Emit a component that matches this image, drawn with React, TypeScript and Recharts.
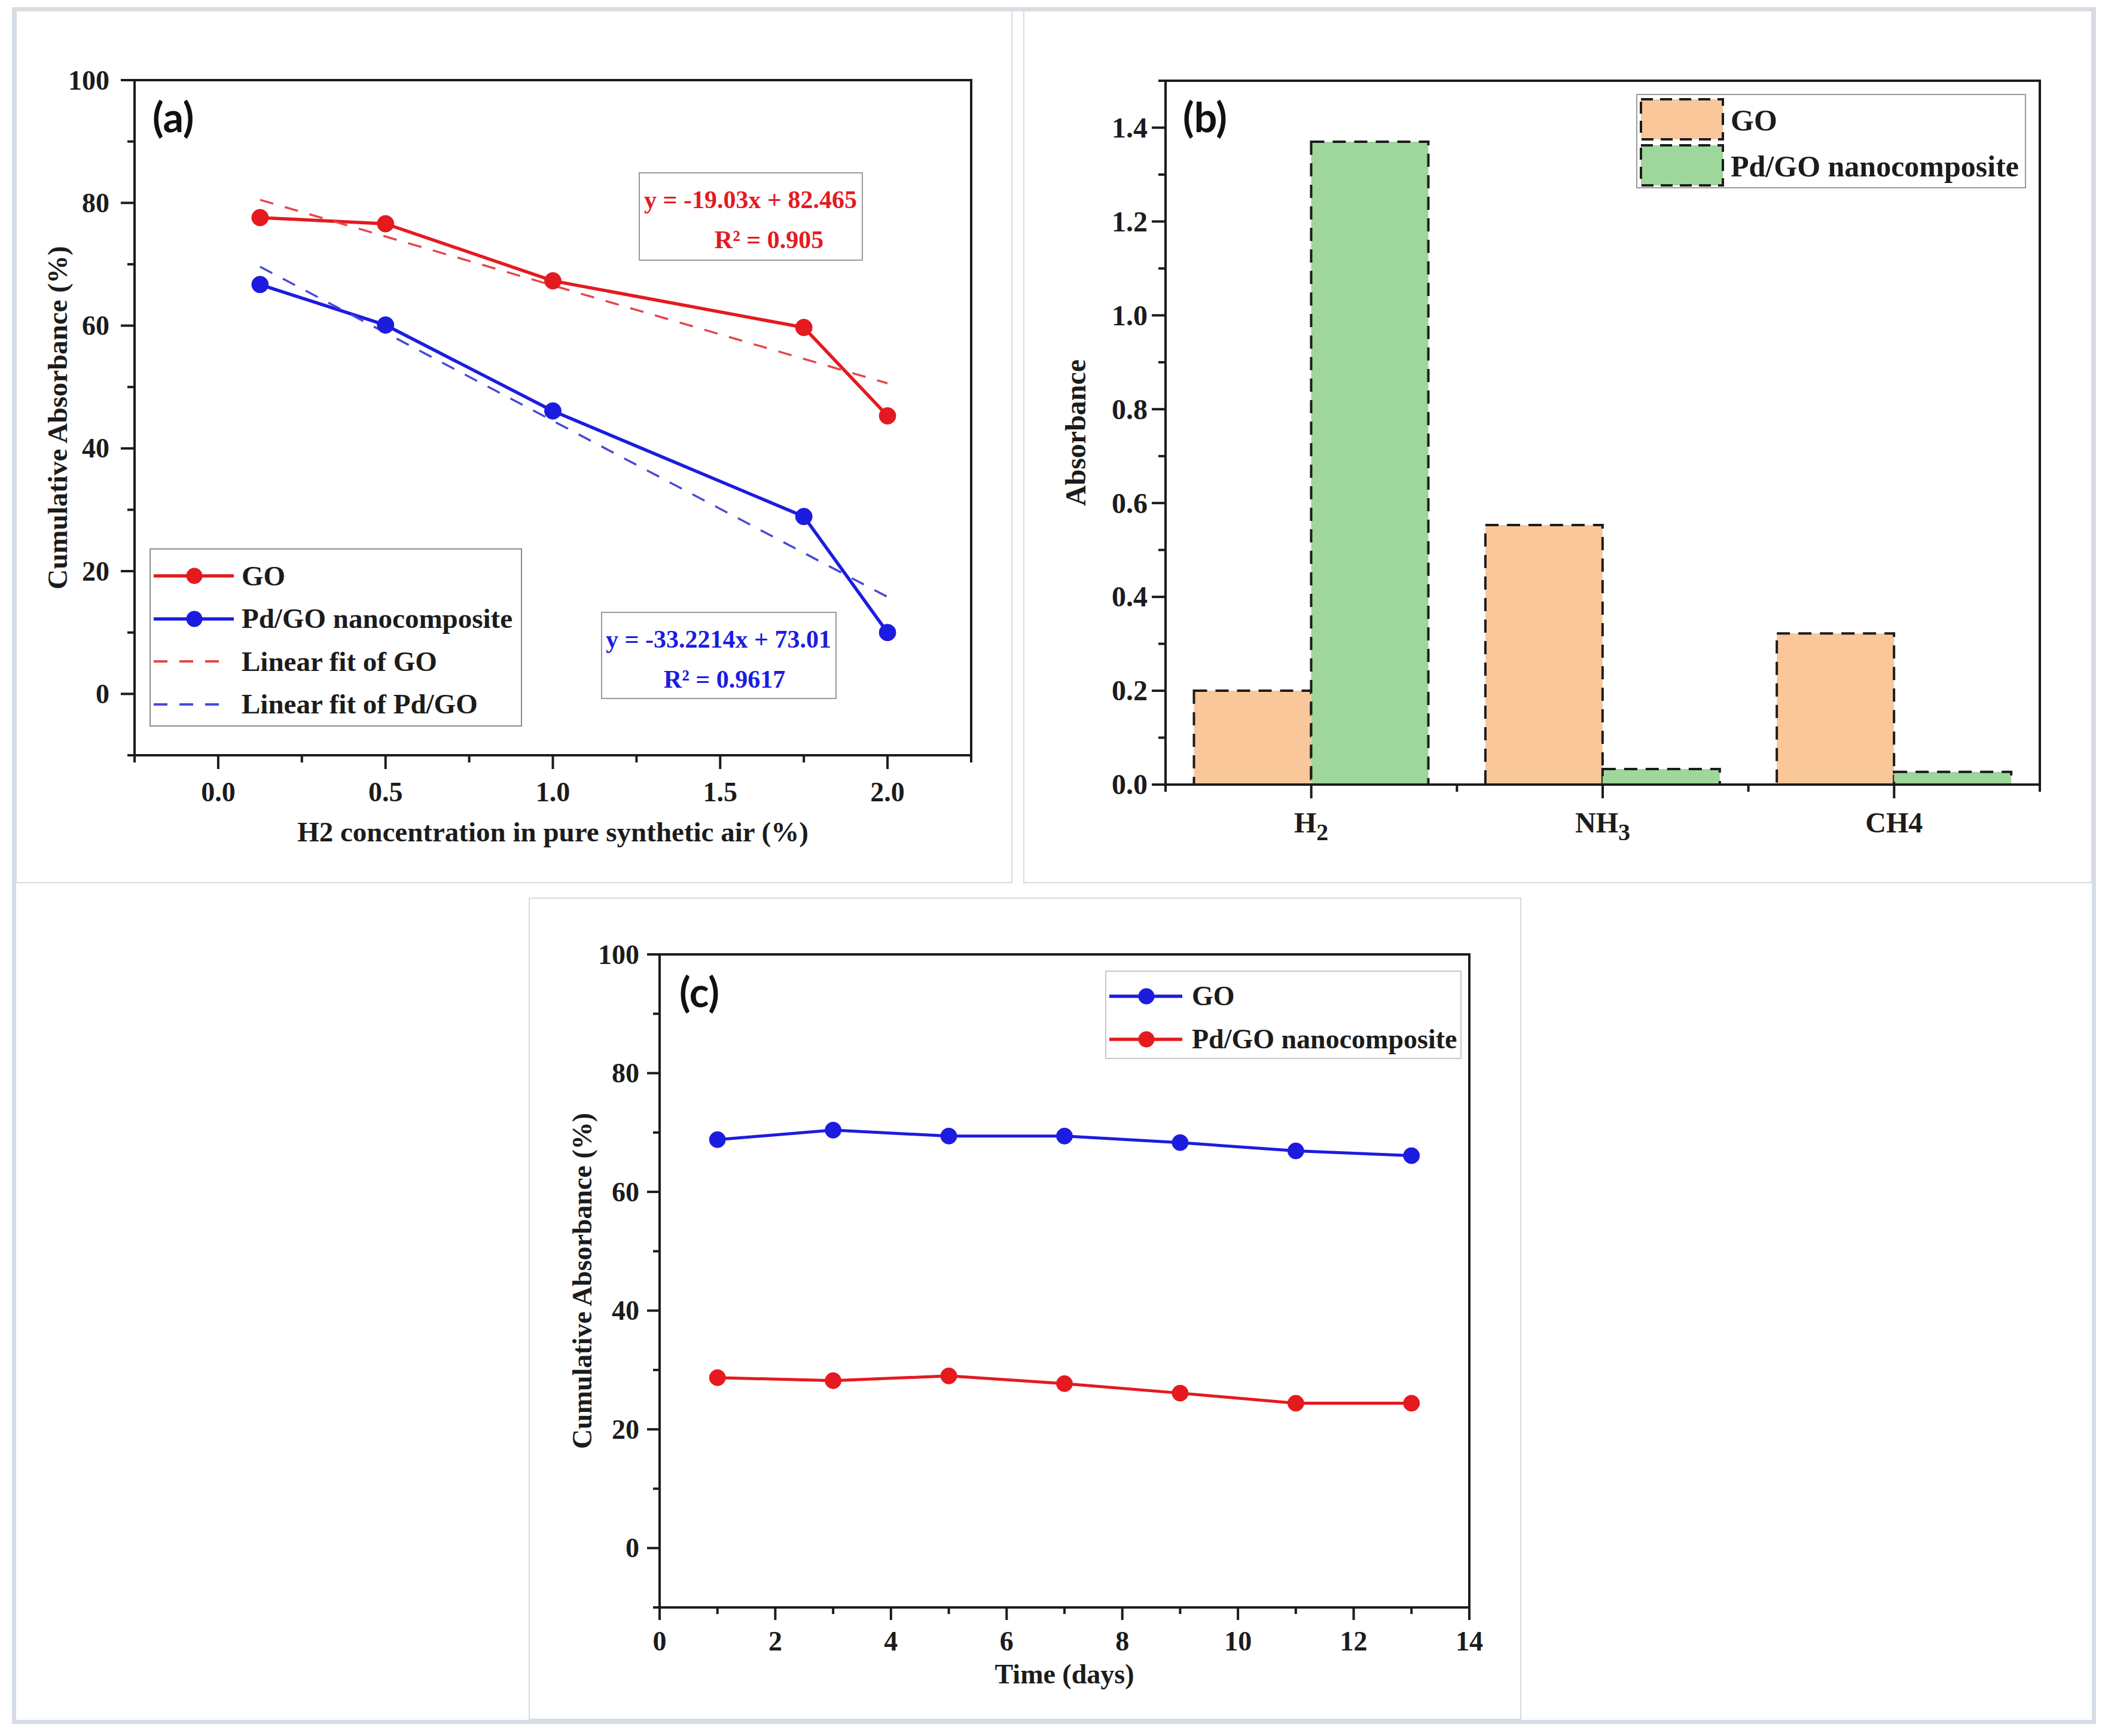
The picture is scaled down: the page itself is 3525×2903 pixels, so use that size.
import React from 'react';
import { LineChart, Line, BarChart, Bar, XAxis, YAxis, ReferenceArea, Legend } from 'recharts';

const SERIF = '"Liberation Serif", "Times New Roman", Times, serif';
const SANS = 'Lato, "Liberation Sans", Arial, sans-serif';
const INK = '#1c1c1c';
const RED = '#E41A1F';
const BLUE = '#1C1CE0';
const FIT_RED = '#E2474B';
const FIT_BLUE = '#4848D8';
const PEACH = '#F9C79A';
const GREEN = '#9ED69B';

// ---------------- panel (a) ----------------
const aConcentration = [0.125, 0.5, 1.0, 1.75, 2.0];
const aGO = [77.6, 76.6, 67.3, 59.7, 45.3];
const aPdGO = [66.7, 60.1, 46.1, 28.9, 10.0];
const aFitX = [0.125, 2.0];
const aFitGO = [80.5, 50.6];
const aFitPdGO = [69.6, 15.8];
const aXTicks = [-0.25, 0, 0.25, 0.5, 0.75, 1, 1.25, 1.5, 1.75, 2, 2.25];
const aXLabelled = [0, 0.5, 1, 1.5, 2];
const aYTicks = [-10, 0, 10, 20, 30, 40, 50, 60, 70, 80, 90, 100];
const aYLabelled = [0, 20, 40, 60, 80, 100];
const aLegendNames = ['GO', 'Pd/GO nanocomposite', 'Linear fit of GO', 'Linear fit of Pd/GO'];
const aEquationGO = ['y = -19.03x + 82.465', 'R² = 0.905'];
const aEquationPdGO = ['y = -33.2214x + 73.01', 'R² = 0.9617'];

// ---------------- panel (b) ----------------
const bGases = ['H2', 'NH3', 'CH4'];
const bTickMain = ['H', 'NH', 'CH4'];
const bTickSub = ['2', '3', ''];
const bGO = [0.2, 0.553, 0.322];
const bPdGO = [1.37, 0.033, 0.027];
const bYTicks = [0, 0.1, 0.2, 0.3, 0.4, 0.5, 0.6, 0.7, 0.8, 0.9, 1.0, 1.1, 1.2, 1.3, 1.4, 1.5];
const bYLabelled = [0, 0.2, 0.4, 0.6, 0.8, 1.0, 1.2, 1.4];
const bLegendNames = ['GO', 'Pd/GO nanocomposite'];

// ---------------- panel (c) ----------------
const cDays = [1, 3, 5, 7, 9, 11, 13];
const cGO = [68.8, 70.4, 69.4, 69.4, 68.3, 66.9, 66.1];
const cPdGO = [28.7, 28.2, 29.0, 27.7, 26.1, 24.4, 24.4];
const cXTicks = [0, 1, 2, 3, 4, 5, 6, 7, 8, 9, 10, 11, 12, 13, 14];
const cXLabelled = [0, 2, 4, 6, 8, 10, 12, 14];
const cYTicks = [-10, 0, 10, 20, 30, 40, 50, 60, 70, 80, 90, 100];
const cYLabelled = [0, 20, 40, 60, 80, 100];
const cLegendNames = ['GO', 'Pd/GO nanocomposite'];

// ---------------- tables ----------------
const aRows = aConcentration.map((x, i) => {
  const j = aFitX.indexOf(x);
  return {
    x,
    go: aGO[i],
    pd: aPdGO[i],
    fitGo: j >= 0 ? aFitGO[j] : null,
    fitPd: j >= 0 ? aFitPdGO[j] : null,
  };
});
const bRows = bGases.map((gas, i) => ({ gas, go: bGO[i], pd: bPdGO[i] }));
const cRows = cDays.map((day, i) => ({ day, go: cGO[i], pd: cPdGO[i] }));

// ---------------- helpers ----------------
const isIn = (arr: number[], v: number) => arr.some((a) => Math.abs(a - v) < 1e-6);

type TickOpts = {
  labelled: number[];
  fmt: (v: number) => string;
  major: number;
  minor: number;
  gap: number;
  size: number;
};

function bottomTick(o: TickOpts) {
  return (p: any) => {
    const { x, y, payload } = p;
    const v = Number(payload.value);
    const lab = isIn(o.labelled, v);
    return (
      <g>
        <line x1={x} x2={x} y1={y} y2={y + (lab ? o.major : o.minor)} stroke={INK} strokeWidth={4} />
        {lab && (
          <text x={x} y={y + o.gap} textAnchor="middle" fontFamily={SERIF} fontWeight="bold" fontSize={o.size} fill={INK}>
            {o.fmt(v)}
          </text>
        )}
      </g>
    );
  };
}

function leftTick(o: TickOpts) {
  return (p: any) => {
    const { x, y, payload } = p;
    const v = Number(payload.value);
    const lab = isIn(o.labelled, v);
    return (
      <g>
        <line x1={x - (lab ? o.major : o.minor)} x2={x} y1={y} y2={y} stroke={INK} strokeWidth={4} />
        {lab && (
          <text x={x - o.gap} y={y} dy="0.34em" textAnchor="end" fontFamily={SERIF} fontWeight="bold" fontSize={o.size} fill={INK}>
            {o.fmt(v)}
          </text>
        )}
      </g>
    );
  };
}

function bottomTitle(text: string, baselineDy: number, size: number) {
  return (p: any) => {
    const vb = p.viewBox || {};
    const cx = (vb.x ?? 0) + (vb.width ?? 0) / 2;
    const cy = (vb.y ?? 0) + baselineDy;
    return (
      <text x={cx} y={cy} textAnchor="middle" fontFamily={SERIF} fontWeight="bold" fontSize={size} fill={INK}>
        {text}
      </text>
    );
  };
}

function leftTitle(text: string, dx: number, size: number) {
  return (p: any) => {
    const vb = p.viewBox || {};
    const cx = (vb.x ?? 0) + dx;
    const cy = (vb.y ?? 0) + (vb.height ?? 0) / 2;
    return (
      <text
        x={cx}
        y={cy}
        dy="0.34em"
        transform={`rotate(-90 ${cx} ${cy})`}
        textAnchor="middle"
        fontFamily={SERIF}
        fontWeight="bold"
        fontSize={size}
        fill={INK}
      >
        {text}
      </text>
    );
  };
}

const fmtFixed1 = (v: number) => v.toFixed(1);
const fmtInt = (v: number) => String(Math.round(v));

// ---------------- legends ----------------
function LineLegendRow({ top, color, dashed, name, size, sampleW, textLeft }: any) {
  return (
    <>
      <svg style={{ position: 'absolute', left: 3, top: top - 20 }} width={sampleW + 6} height={40}>
        {dashed ? (
          <line x1={2} x2={sampleW - 22} y1={20} y2={20} stroke={color} strokeWidth={4} strokeDasharray="23 20" />
        ) : (
          <>
            <line x1={2} x2={sampleW} y1={20} y2={20} stroke={color} strokeWidth={5.5} />
            <circle cx={sampleW / 2 + 2} cy={20} r={13.5} fill={color} />
          </>
        )}
      </svg>
      <div
        style={{
          position: 'absolute',
          left: textLeft,
          top: top - size / 2,
          height: size,
          lineHeight: `${size}px`,
          fontSize: size,
          fontFamily: SERIF,
          fontWeight: 'bold',
          color: INK,
          whiteSpace: 'nowrap',
        }}
      >
        {name}
      </div>
    </>
  );
}

const aLegendColors = [RED, BLUE, FIT_RED, FIT_BLUE];
const aLegendDashed = [false, false, true, true];
const legendA = () => (
  <div style={{ position: 'relative', width: 623, height: 298, border: '2.5px solid #8c8c8c', boxSizing: 'border-box', background: '#fff' }}>
    {aLegendNames.map((name, i) => (
      <LineLegendRow
        key={name}
        top={44 + i * 71.5}
        color={aLegendColors[i]}
        dashed={aLegendDashed[i]}
        name={name}
        size={47}
        sampleW={136}
        textLeft={152}
      />
    ))}
  </div>
);

const cLegendColors = [BLUE, RED];
const legendC = () => (
  <div style={{ position: 'relative', width: 596, height: 148, border: '2.5px solid #c8c8c8', boxSizing: 'border-box', background: '#fff' }}>
    {cLegendNames.map((name, i) => (
      <LineLegendRow
        key={name}
        top={41 + i * 72}
        color={cLegendColors[i]}
        dashed={false}
        name={name}
        size={46}
        sampleW={124}
        textLeft={143}
      />
    ))}
  </div>
);

const bLegendFills = [PEACH, GREEN];
const legendB = () => (
  <div style={{ position: 'relative', width: 652, height: 158, border: '2.5px solid #9a9a9a', boxSizing: 'border-box', background: '#fff' }}>
    {bLegendNames.map((name, i) => (
      <React.Fragment key={name}>
        <svg style={{ position: 'absolute', left: 4, top: 5 + i * 77 }} width={142} height={72}>
          <rect x={2} y={2} width={137} height={67} fill={bLegendFills[i]} stroke={INK} strokeWidth={4} strokeDasharray="20 12" />
        </svg>
        <div
          style={{
            position: 'absolute',
            left: 156,
            top: 42 + i * 77 - 25,
            height: 50,
            lineHeight: '50px',
            fontSize: 50,
            fontFamily: SERIF,
            fontWeight: 'bold',
            color: INK,
            whiteSpace: 'nowrap',
          }}
        >
          {name}
        </div>
      </React.Fragment>
    ))}
  </div>
);

// ---------------- annotations ----------------
function EquationBox({ left, top, width, height, lines, color, shift }: any) {
  return (
    <div style={{ position: 'absolute', left, top, width, height, border: '2.5px solid #9a9a9a', boxSizing: 'border-box', background: '#fff' }}>
      {lines.map((t: string, i: number) => (
        <div
          key={t}
          style={{
            position: 'absolute',
            left: i === 1 ? shift : 0,
            width: width - 5,
            top: (i === 0 ? 44 : 111) - 21,
            height: 42,
            lineHeight: '42px',
            fontSize: 42,
            textAlign: 'center',
            fontFamily: SERIF,
            fontWeight: 'bold',
            color,
            whiteSpace: 'nowrap',
          }}
        >
          {t}
        </div>
      ))}
    </div>
  );
}

function PanelTag({ left, centerY, text }: any) {
  return (
    <div
      style={{
        position: 'absolute',
        left,
        top: centerY - 42,
        height: 68,
        lineHeight: '68px',
        fontSize: 68,
        fontFamily: SANS,
        fontWeight: 'bold',
        color: '#111',
        whiteSpace: 'nowrap',
      }}
    >
      {text}
    </div>
  );
}

function PanelBox({ left, top, width, height }: any) {
  return <div style={{ position: 'absolute', left, top, width, height, border: '2px solid #dadada', boxSizing: 'border-box' }} />;
}

// ---------------- bar x tick ----------------
const bXTick = (p: any) => {
  const { x, y, payload } = p;
  const idx = bGases.indexOf(payload.value);
  const half = typeof payload.offset === 'number' && payload.offset > 0 ? payload.offset : (p.width || 0) / ((p.visibleTicksCount || 3) * 2);
  return (
    <g>
      <line x1={x} x2={x} y1={y} y2={y + 23} stroke={INK} strokeWidth={4} />
      <line x1={x - half} x2={x - half} y1={y} y2={y + 12} stroke={INK} strokeWidth={4} />
      {idx === bGases.length - 1 && <line x1={x + half} x2={x + half} y1={y} y2={y + 12} stroke={INK} strokeWidth={4} />}
      <text x={x} y={y + 80} textAnchor="middle" fontFamily={SERIF} fontWeight="bold" fontSize={48} fill={INK}>
        {bTickMain[idx]}
        {bTickSub[idx] && (
          <tspan dy={13} fontSize={40}>
            {bTickSub[idx]}
          </tspan>
        )}
      </text>
    </g>
  );
};

const axisLine = { stroke: INK, strokeWidth: 4 };

export default function App() {
  return (
    <div style={{ position: 'absolute', left: 0, top: 0, width: 3525, height: 2903, background: '#fff', overflow: 'hidden' }}>
      <div style={{ position: 'absolute', left: 20, top: 12, width: 3485, height: 2871, border: '7px solid #D6DDE7', boxSizing: 'border-box' }} />
      <PanelBox left={26} top={17} width={1667} height={1460} />
      <PanelBox left={1711} top={17} width={1788} height={1460} />
      <PanelBox left={884} top={1501} width={1660} height={1375} />

      {/* ---------------- (a) ---------------- */}
      <div style={{ position: 'absolute', left: 27, top: 22 }}>
        <LineChart width={1665} height={1452} data={aRows} margin={{ top: 112, right: 68, bottom: 51, left: 48 }}>
          <XAxis
            dataKey="x"
            type="number"
            domain={[-0.25, 2.25]}
            ticks={aXTicks}
            interval={0}
            allowDataOverflow
            height={160}
            tickSize={0}
            tickMargin={0}
            tickLine={false}
            axisLine={axisLine}
            tick={bottomTick({ labelled: aXLabelled, fmt: fmtFixed1, major: 23, minor: 12, gap: 77, size: 46 })}
            label={bottomTitle('H2 concentration in pure synthetic air (%)', 144, 47)}
          />
          <YAxis
            type="number"
            domain={[-10, 100]}
            ticks={aYTicks}
            interval={0}
            allowDataOverflow
            width={150}
            tickSize={0}
            tickMargin={0}
            tickLine={false}
            axisLine={axisLine}
            tick={leftTick({ labelled: aYLabelled, fmt: fmtInt, major: 23, minor: 12, gap: 42, size: 46 })}
            label={leftTitle('Cumulative Absorbance (%)', 21, 47)}
          />
          <ReferenceArea y1={-10} y2={100} fill="none" stroke={INK} strokeWidth={4} ifOverflow="visible" />
          <Line dataKey="go" stroke={RED} strokeWidth={5.5} dot={{ r: 14, fill: RED, stroke: RED, strokeWidth: 1 }} activeDot={false} isAnimationActive={false} connectNulls />
          <Line dataKey="pd" stroke={BLUE} strokeWidth={5.5} dot={{ r: 14, fill: BLUE, stroke: BLUE, strokeWidth: 1 }} activeDot={false} isAnimationActive={false} connectNulls />
          <Line dataKey="fitGo" stroke={FIT_RED} strokeWidth={3.5} strokeDasharray="23 20" dot={false} activeDot={false} isAnimationActive={false} connectNulls />
          <Line dataKey="fitPd" stroke={FIT_BLUE} strokeWidth={3.5} strokeDasharray="23 20" dot={false} activeDot={false} isAnimationActive={false} connectNulls />
          <Legend content={legendA} layout="vertical" align="center" verticalAlign="middle" wrapperStyle={{ left: 223, top: 895 }} />
        </LineChart>
      </div>

      {/* ---------------- (b) ---------------- */}
      <div style={{ position: 'absolute', left: 1713, top: 22 }}>
        <BarChart width={1783} height={1452} data={bRows} margin={{ top: 113, right: 85, bottom: 42, left: 86 }} barCategoryGap="9.75%" barGap={0}>
          <XAxis
            dataKey="gas"
            type="category"
            interval={0}
            height={120}
            tickSize={0}
            tickMargin={0}
            tickLine={false}
            axisLine={axisLine}
            tick={bXTick}
          />
          <YAxis
            type="number"
            domain={[0, 1.5]}
            ticks={bYTicks}
            interval={0}
            allowDataOverflow
            width={150}
            tickSize={0}
            tickMargin={0}
            tickLine={false}
            axisLine={axisLine}
            tick={leftTick({ labelled: bYLabelled, fmt: fmtFixed1, major: 23, minor: 12, gap: 30, size: 48 })}
            label={leftTitle('Absorbance', 0, 48)}
          />
          <Bar dataKey="go" fill={PEACH} stroke={INK} strokeWidth={4} strokeDasharray="22 14" isAnimationActive={false} />
          <Bar dataKey="pd" fill={GREEN} stroke={INK} strokeWidth={4} strokeDasharray="22 14" isAnimationActive={false} />
          <ReferenceArea y1={0} y2={1.5} fill="none" stroke={INK} strokeWidth={4} ifOverflow="visible" />
          <Legend content={legendB} layout="vertical" align="center" verticalAlign="middle" wrapperStyle={{ left: 1023, top: 135 }} />
        </BarChart>
      </div>

      {/* ---------------- (c) ---------------- */}
      <div style={{ position: 'absolute', left: 883, top: 1502 }}>
        <LineChart width={1660} height={1372} data={cRows} margin={{ top: 94, right: 86, bottom: 36, left: 80 }}>
          <XAxis
            dataKey="day"
            type="number"
            domain={[0, 14]}
            ticks={cXTicks}
            interval={0}
            allowDataOverflow
            height={150}
            tickSize={0}
            tickMargin={0}
            tickLine={false}
            axisLine={axisLine}
            tick={bottomTick({ labelled: cXLabelled, fmt: fmtInt, major: 21, minor: 11, gap: 72, size: 46 })}
            label={bottomTitle('Time (days)', 127, 46)}
          />
          <YAxis
            type="number"
            domain={[-10, 100]}
            ticks={cYTicks}
            interval={0}
            allowDataOverflow
            width={140}
            tickSize={0}
            tickMargin={0}
            tickLine={false}
            axisLine={axisLine}
            tick={leftTick({ labelled: cYLabelled, fmt: fmtInt, major: 21, minor: 11, gap: 34, size: 46 })}
            label={leftTitle('Cumulative Absorbance (%)', 10, 46)}
          />
          <ReferenceArea y1={-10} y2={100} fill="none" stroke={INK} strokeWidth={4} ifOverflow="visible" />
          <Line dataKey="go" stroke={BLUE} strokeWidth={5} dot={{ r: 13.5, fill: BLUE, stroke: BLUE, strokeWidth: 1 }} activeDot={false} isAnimationActive={false} />
          <Line dataKey="pd" stroke={RED} strokeWidth={5} dot={{ r: 13.5, fill: RED, stroke: RED, strokeWidth: 1 }} activeDot={false} isAnimationActive={false} />
          <Legend content={legendC} layout="vertical" align="center" verticalAlign="middle" wrapperStyle={{ left: 965, top: 121 }} />
        </LineChart>
      </div>

      {/* ---------------- annotations ---------------- */}
      <EquationBox left={1068} top={288} width={375} height={148} lines={aEquationGO} color={RED} shift={31} />
      <EquationBox left={1005} top={1023} width={394} height={146} lines={aEquationPdGO} color={BLUE} shift={10} />
      <PanelTag left={255} centerY={203} text="(a)" />
      <PanelTag left={1978} centerY={203} text="(b)" />
      <PanelTag left={1136} centerY={1666} text="(c)" />
    </div>
  );
}
